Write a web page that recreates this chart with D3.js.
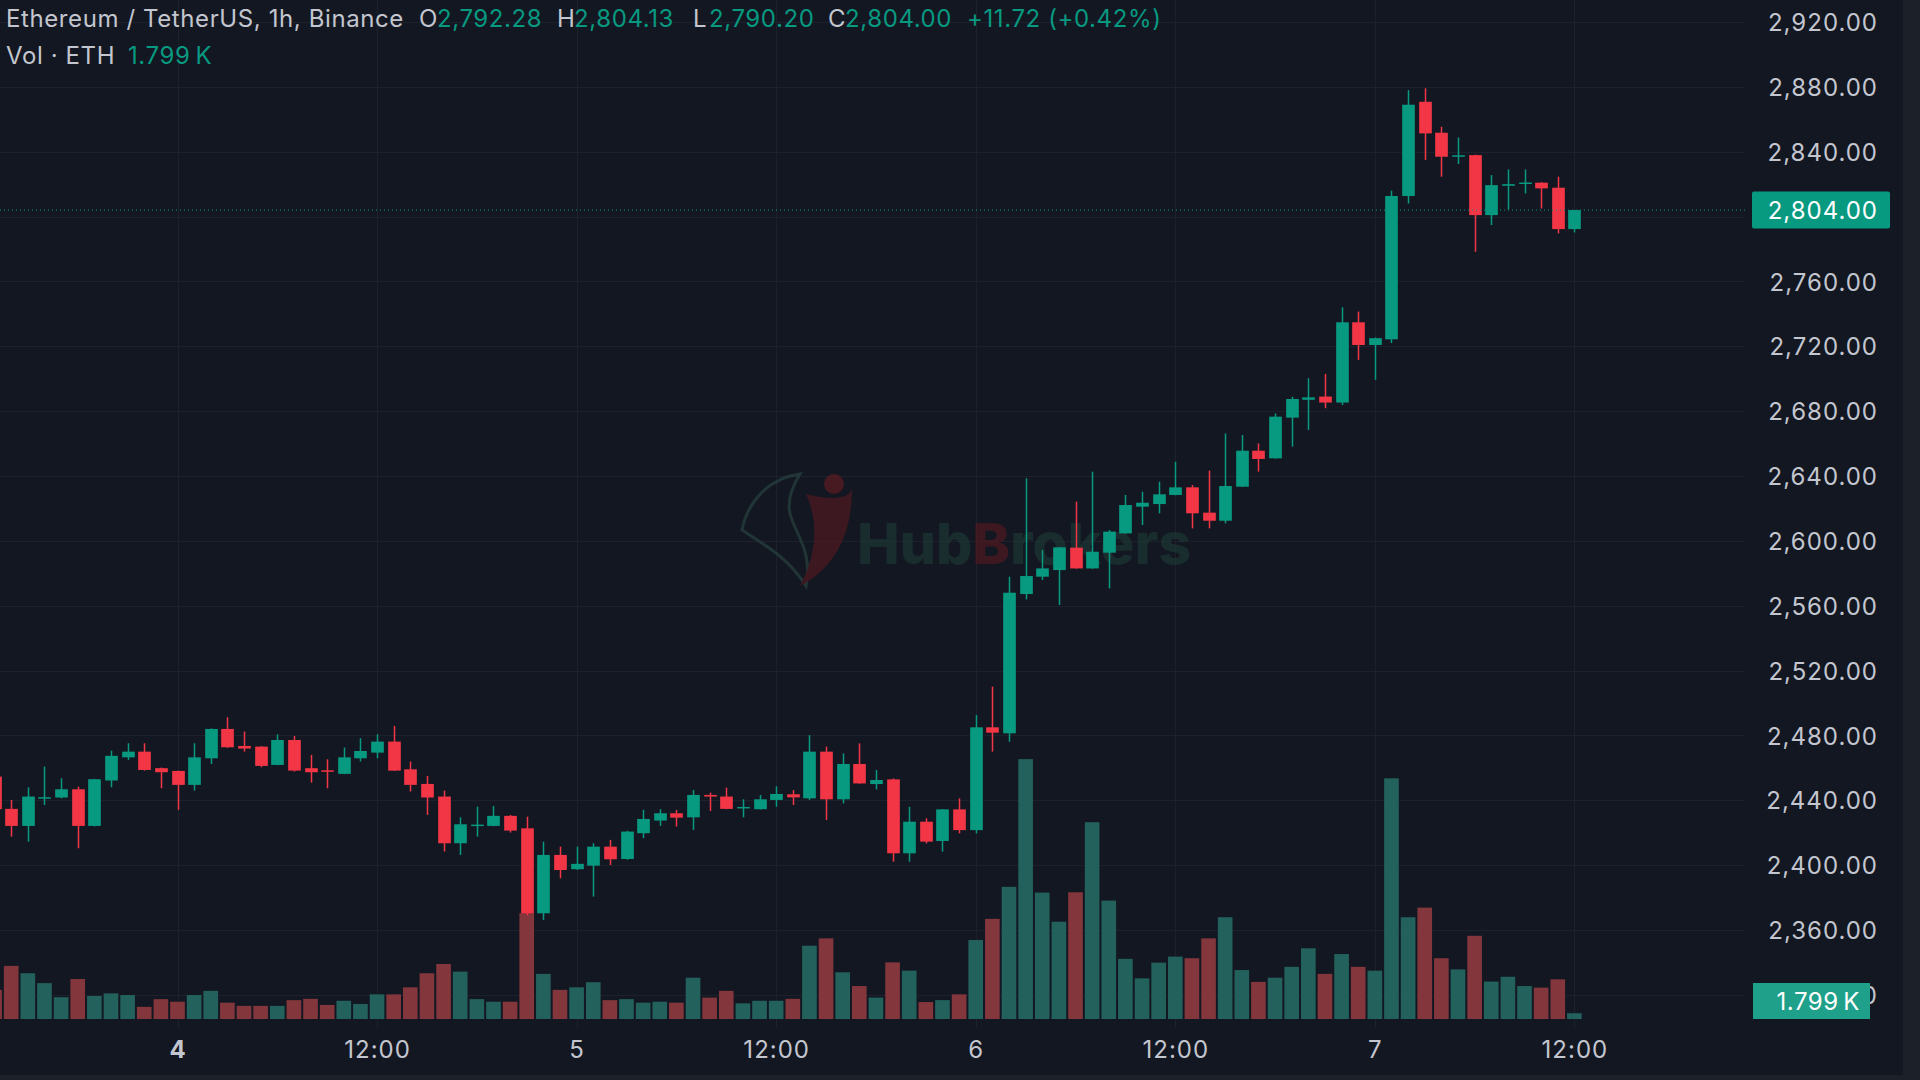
<!DOCTYPE html>
<html>
<head>
<meta charset="utf-8">
<script src="https://cdn.jsdelivr.net/npm/d3@7"></script>
<style>
  html, body { margin: 0; padding: 0; background: #131722; overflow: hidden; }
  svg { display: block; }
</style>
</head>
<body>
<svg id="chart" width="1920" height="1080"></svg>
<script>
// ETH/USDT 1h candles, first bar = day 3 13:00, last bar = day 7 12:00
const HOUR = 3600 * 1000;
const firstBar = Date.UTC(2025, 0, 3, 13);

const opens = [
  2454.6, 2434.7, 2424.2, 2441.5, 2441.7, 2446.8, 2424.2, 2452.2, 2466.5, 2470.0, 2459.8,
  2458.1, 2449.5, 2465.9, 2484.0, 2473.5, 2473.1, 2461.8, 2477.2, 2459.8, 2458.5, 2456.3,
  2465.9, 2469.4, 2476.2, 2459.1, 2450.1, 2442.3, 2413.5, 2424.6, 2424.2, 2430.4, 2422.7,
  2370.3, 2406.3, 2397.5, 2399.7, 2411.4, 2403.8, 2419.7, 2427.5, 2432.0, 2429.5, 2443.3,
  2442.3, 2435.3, 2434.5, 2440.2, 2443.7, 2441.2, 2470.0, 2440.6, 2462.4, 2450.0, 2452.9,
  2407.3, 2426.8, 2414.9, 2434.4, 2421.6, 2485.0, 2481.3, 2567.2, 2577.9, 2582.0, 2595.8,
  2583.0, 2592.7, 2604.6, 2621.1, 2622.7, 2628.3, 2633.0, 2617.4, 2612.4, 2633.4, 2655.6,
  2650.9, 2676.0, 2687.0, 2689.0, 2685.3, 2734.8, 2720.8, 2724.3, 2812.7, 2870.8, 2851.7,
  2837.3, 2837.9, 2800.9, 2819.0, 2820.5, 2820.9, 2817.8, 2792.28
];
const highs = [
  2457.0, 2440.2, 2448.0, 2460.8, 2453.6, 2448.4, 2453.2, 2470.6, 2475.2, 2475.2, 2460.2,
  2458.3, 2475.2, 2484.3, 2491.2, 2482.4, 2473.3, 2480.7, 2479.7, 2468.0, 2465.3, 2472.5,
  2478.3, 2480.7, 2485.9, 2463.9, 2455.0, 2446.0, 2429.5, 2436.1, 2436.5, 2431.0, 2429.9,
  2414.5, 2411.4, 2411.4, 2413.5, 2415.6, 2421.2, 2434.1, 2434.5, 2434.1, 2446.4, 2444.7,
  2447.8, 2440.6, 2443.3, 2448.6, 2446.3, 2480.2, 2473.1, 2468.9, 2475.1, 2458.7, 2453.5,
  2436.0, 2428.9, 2434.6, 2441.2, 2492.6, 2510.1, 2577.9, 2638.6, 2594.4, 2596.2, 2624.2,
  2642.7, 2606.7, 2628.3, 2630.3, 2636.5, 2648.8, 2634.4, 2643.3, 2666.3, 2665.3, 2660.1,
  2678.6, 2688.9, 2700.3, 2703.0, 2744.1, 2741.4, 2725.4, 2816.0, 2878.0, 2879.1, 2855.4,
  2848.8, 2838.2, 2825.6, 2829.1, 2829.1, 2821.2, 2824.6, 2804.13
];
const lows = [
  2432.0, 2417.6, 2414.5, 2437.1, 2441.2, 2410.4, 2423.9, 2448.0, 2464.9, 2458.3, 2447.4,
  2434.1, 2446.0, 2462.4, 2472.4, 2470.0, 2460.4, 2461.6, 2457.7, 2450.9, 2447.4, 2456.1,
  2463.9, 2465.9, 2458.1, 2445.4, 2431.0, 2408.4, 2406.3, 2417.6, 2424.0, 2420.1, 2369.0,
  2366.2, 2391.9, 2397.0, 2380.6, 2400.1, 2403.3, 2416.6, 2424.2, 2423.8, 2421.7, 2433.4,
  2434.5, 2429.5, 2434.3, 2436.0, 2437.1, 2440.2, 2427.8, 2438.1, 2450.2, 2446.7, 2402.1,
  2402.1, 2413.4, 2408.3, 2419.6, 2419.6, 2470.0, 2476.1, 2563.9, 2575.8, 2560.4, 2582.8,
  2582.8, 2570.7, 2604.4, 2609.8, 2617.0, 2628.1, 2607.7, 2607.7, 2610.8, 2633.2, 2642.7,
  2650.7, 2658.1, 2668.4, 2681.8, 2683.8, 2711.6, 2699.3, 2722.0, 2808.0, 2834.9, 2824.6,
  2832.4, 2778.3, 2794.8, 2804.4, 2814.3, 2805.0, 2789.6, 2790.20
];
const closes = [
  2434.5, 2424.2, 2442.3, 2441.9, 2446.8, 2424.2, 2453.0, 2467.4, 2470.0, 2458.7, 2457.3,
  2449.5, 2466.5, 2484.0, 2472.7, 2471.9, 2461.2, 2477.2, 2458.3, 2457.3, 2457.9, 2466.5,
  2470.4, 2476.2, 2458.3, 2449.5, 2441.7, 2413.5, 2425.2, 2425.0, 2430.4, 2421.3, 2370.3,
  2406.3, 2397.0, 2400.8, 2411.4, 2403.6, 2420.7, 2428.5, 2432.0, 2429.3, 2443.3, 2442.3,
  2434.7, 2435.9, 2440.6, 2443.9, 2441.8, 2470.0, 2440.6, 2462.4, 2450.4, 2452.5, 2407.3,
  2426.8, 2414.5, 2434.4, 2421.6, 2485.0, 2481.7, 2568.0, 2578.3, 2583.0, 2596.0, 2583.0,
  2593.3, 2605.7, 2622.1, 2623.5, 2628.7, 2633.0, 2617.0, 2612.4, 2633.8, 2655.6, 2650.5,
  2676.6, 2687.5, 2688.5, 2685.3, 2734.8, 2720.8, 2725.0, 2812.7, 2869.0, 2851.3, 2836.9,
  2837.8, 2800.9, 2819.4, 2820.0, 2821.0, 2817.4, 2792.28, 2804.0
];
// volume in thousands of ETH
const volumes = [
  9.1, 16.6, 14.3, 11.2, 6.8, 12.5, 7.2, 8.0, 7.5, 3.8, 6.2,
  5.4, 7.5, 8.8, 5.1, 4.1, 4.1, 4.1, 5.9, 6.3, 4.4, 5.7,
  4.7, 7.7, 7.7, 9.9, 14.3, 17.2, 14.8, 6.2, 5.4, 5.4, 33.1,
  14.1, 9.1, 9.9, 11.5, 5.9, 6.2, 5.1, 5.4, 5.1, 12.9, 6.7,
  8.8, 4.9, 5.7, 5.7, 6.3, 22.9, 25.2, 14.6, 10.3, 6.7, 17.7,
  15.1, 5.3, 5.9, 7.7, 24.7, 31.3, 41.3, 81.2, 39.5, 30.4, 39.6,
  61.5, 37.0, 18.8, 12.7, 17.6, 19.5, 19.0, 25.2, 31.8, 15.3, 11.6,
  12.9, 16.3, 22.1, 14.1, 20.3, 16.3, 15.1, 75.2, 31.8, 34.8, 19.0,
  15.5, 26.0, 11.7, 13.2, 10.3, 9.8, 12.4, 1.799
];

// 2,800 sits under the last-price label, so it is left out
const priceTicks = [2320, 2360, 2400, 2440, 2480, 2520, 2560, 2600, 2640, 2680, 2720, 2760, 2840, 2880, 2920];
const gridTicks = d3.range(2320, 2921, 40);
const timeTicks = [
  Date.UTC(2025, 0, 4, 0), Date.UTC(2025, 0, 4, 12), Date.UTC(2025, 0, 5, 0), Date.UTC(2025, 0, 5, 12),
  Date.UTC(2025, 0, 6, 0), Date.UTC(2025, 0, 6, 12), Date.UTC(2025, 0, 7, 0), Date.UTC(2025, 0, 7, 12)
];
const timeTickLabels = ['4', '12:00', '5', '12:00', '6', '12:00', '7', '12:00'];

const lastVolumeLabel = '1.799\u202FK';

const UP = '#089981', DOWN = '#f23645';
const UP_VOL = '#23625c', DOWN_VOL = '#83363b';
const GRID = '#1d212c', TEXT = '#c3c6ce';
const FONT = "Inter, 'Noto Sans', Roboto, sans-serif";

const plotRight = 1745, volBase = 1019;

const candles = opens.map((o, i) => ({
  t: new Date(firstBar + i * HOUR),
  o, h: highs[i], l: lows[i], c: closes[i], v: volumes[i]
}));
const last = candles[candles.length - 1];
const prev = candles[candles.length - 2];

const svg = d3.select('#chart');

const x = d3.scaleTime()
  .domain([new Date(timeTicks[0]), new Date(timeTicks[timeTicks.length - 1])])
  .range([177.5, 1574.4]);
const y = d3.scaleLinear().domain([2360, 2920]).range([930, 22]);
const yVol = d3.scaleLinear().domain([0, 100]).range([volBase, volBase - 320]);

const step = x(new Date(firstBar + HOUR)) - x(new Date(firstBar));
const bodyW = step * 0.76, volW = step * 0.88;

svg.append('rect').attr('width', 1920).attr('height', 1080).attr('fill', '#131722');

// grid
const grid = svg.append('g');
grid.selectAll('.hg').data(gridTicks).join('line')
  .attr('x1', 0).attr('x2', plotRight)
  .attr('y1', d => Math.round(y(d)) + 0.5).attr('y2', d => Math.round(y(d)) + 0.5)
  .attr('stroke', GRID).attr('stroke-width', 1);
grid.selectAll('.vg').data(timeTicks).join('line')
  .attr('x1', d => Math.round(x(d)) + 0.5).attr('x2', d => Math.round(x(d)) + 0.5)
  .attr('y1', 0).attr('y2', 1028)
  .attr('stroke', GRID).attr('stroke-width', 1);

// watermark
const wm = svg.append('g').attr('opacity', 0.6);
wm.append('path')
  .attr('d', 'M742,530 C748,500 770,478 800,474 C790,490 786,506 792,520 C800,540 812,556 806,586 C790,560 770,548 742,530 Z')
  .attr('fill', 'none').attr('stroke', '#2c4a44').attr('stroke-width', 3);
wm.append('path')
  .attr('d', 'M806,494 C830,500 850,500 852,488 C852,530 838,566 800,586 C818,552 818,520 806,494 Z')
  .attr('fill', '#5c1a20');
wm.append('circle').attr('cx', 834).attr('cy', 484).attr('r', 10).attr('fill', '#6a1c22');
const wmText = wm.append('text')
  .attr('x', 857).attr('y', 564)
  .attr('font-family', FONT).attr('font-weight', 800).attr('font-size', 57);
wmText.append('tspan').text('Hub').attr('fill', '#1f3d36');
wmText.append('tspan').text('B').attr('fill', '#5c1a20');
wmText.append('tspan').text('rokers').attr('fill', '#1f3d36');

// volume bars
svg.append('g').selectAll('rect').data(candles).join('rect')
  .attr('x', d => x(d.t) - volW / 2)
  .attr('width', volW)
  .attr('y', d => yVol(d.v))
  .attr('height', d => volBase - yVol(d.v))
  .attr('fill', d => d.c >= d.o ? UP_VOL : DOWN_VOL);

// candles
const cg = svg.append('g').selectAll('g').data(candles).join('g');
cg.append('line')
  .attr('x1', d => Math.round(x(d.t)) + 0.5).attr('x2', d => Math.round(x(d.t)) + 0.5)
  .attr('y1', d => y(d.h)).attr('y2', d => y(d.l))
  .attr('stroke', d => d.c >= d.o ? UP : DOWN).attr('stroke-width', 1.5);
cg.append('rect')
  .attr('x', d => Math.round(x(d.t)) + 0.5 - bodyW / 2)
  .attr('width', bodyW)
  .attr('y', d => y(Math.max(d.o, d.c)))
  .attr('height', d => Math.max(1.5, Math.abs(y(d.o) - y(d.c))))
  .attr('fill', d => d.c >= d.o ? UP : DOWN);

// last price line
svg.append('line')
  .attr('x1', 0).attr('x2', plotRight)
  .attr('y1', y(last.c)).attr('y2', y(last.c))
  .attr('stroke', UP).attr('stroke-width', 1).attr('stroke-dasharray', '1,3');

const fmt = d3.format(',.2f');

// price axis
const yAxis = svg.append('g').attr('transform', 'translate(1878,0)')
  .call(d3.axisLeft(y).tickValues(priceTicks).tickFormat(fmt).tickSize(0).tickPadding(0));
yAxis.select('.domain').remove();
yAxis.selectAll('text')
  .attr('fill', TEXT).attr('font-size', 24).attr('letter-spacing', 1)
  .attr('font-family', FONT).attr('dy', '0.36em');

// time axis
const xAxis = svg.append('g').attr('transform', 'translate(0,1036)')
  .call(d3.axisBottom(x).tickValues(timeTicks.map(t => new Date(t)))
    .tickFormat((d, i) => timeTickLabels[i]).tickSize(0).tickPadding(0));
xAxis.select('.domain').remove();
xAxis.selectAll('text')
  .attr('fill', TEXT).attr('font-size', 24).attr('letter-spacing', 1).attr('font-family', FONT)
  .attr('font-weight', (d, i) => i === 0 ? 700 : 400).attr('dy', '0.9em');

// last price label
svg.append('rect').attr('x', 1752).attr('y', y(last.c) - 18.5).attr('width', 138).attr('height', 37)
  .attr('rx', 2).attr('fill', UP);
svg.append('text').attr('x', 1878).attr('y', y(last.c)).attr('dy', '0.36em')
  .attr('text-anchor', 'end').attr('fill', '#ffffff').attr('letter-spacing', 1)
  .attr('font-size', 24).attr('font-family', FONT).text(fmt(last.c));

// last volume label
svg.append('rect').attr('x', 1753).attr('y', volBase - 36).attr('width', 117).attr('height', 36)
  .attr('fill', '#1ea08a');
svg.append('text').attr('x', 1860).attr('y', volBase - 18).attr('dy', '0.36em')
  .attr('text-anchor', 'end').attr('fill', '#ffffff').attr('letter-spacing', 0.5)
  .attr('font-size', 24).attr('font-family', FONT).text(lastVolumeLabel);

// right and bottom borders
svg.append('rect').attr('x', 1903).attr('y', 0).attr('width', 17).attr('height', 1080).attr('fill', '#1c2029');
svg.append('rect').attr('x', 0).attr('y', 1075).attr('width', 1920).attr('height', 5).attr('fill', '#1c2029');

// legend
const change = last.c - prev.c;
const legend = svg.append('g').attr('font-family', FONT).attr('font-size', 24).attr('letter-spacing', 0.6);
const row1 = legend.append('text').attr('y', 18).attr('dy', '0.36em');
row1.append('tspan').attr('x', 6).attr('fill', TEXT).text('Ethereum / TetherUS, 1h, Binance');
const legendX = [[419, 437], [557, 574], [693, 709], [828, 845]];
[['O', last.o], ['H', last.h], ['L', last.l], ['C', last.c]].forEach(([k, v], i) => {
  row1.append('tspan').attr('x', legendX[i][0]).attr('fill', TEXT).text(k);
  row1.append('tspan').attr('x', legendX[i][1]).attr('fill', UP).text(fmt(v));
});
row1.append('tspan').attr('x', 967).attr('fill', UP)
  .text(`+${fmt(change)} (+${d3.format('.2f')(change / prev.c * 100)}%)`);

const row2 = legend.append('text').attr('y', 55).attr('dy', '0.36em');
row2.append('tspan').attr('x', 6).attr('fill', TEXT).text('Vol \u00B7 ETH');
row2.append('tspan').attr('x', 128).attr('fill', UP).text(lastVolumeLabel);
</script>
</body>
</html>
